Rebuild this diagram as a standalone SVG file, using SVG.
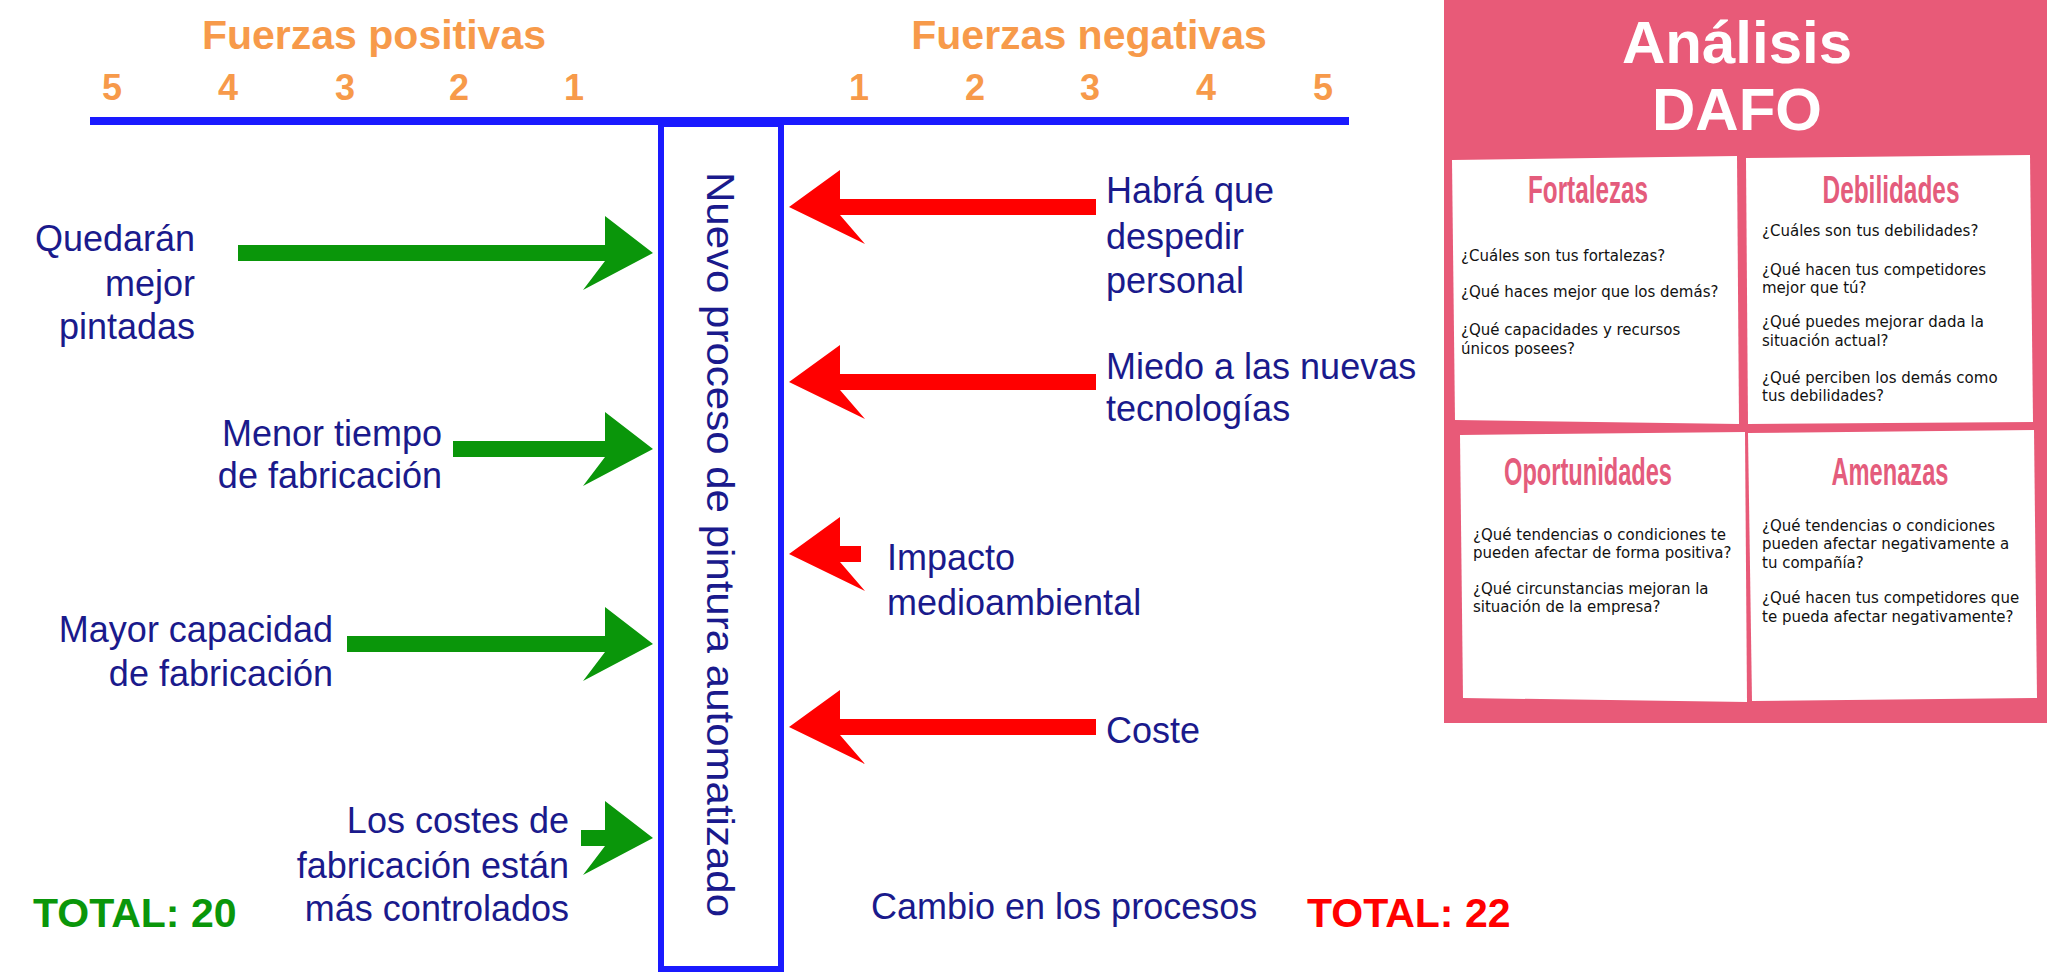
<svg xmlns="http://www.w3.org/2000/svg" width="2059" height="979" viewBox="0 0 2059 979">
<style>
.lbl{font-family:"Liberation Sans",Arial,sans-serif;font-size:36px;fill:#1a1a8c}
.num{font-family:"Liberation Sans",Arial,sans-serif;font-size:36px;font-weight:bold;fill:#f79a4a;text-anchor:middle}
.hd{font-family:"Liberation Sans",Arial,sans-serif;font-size:41px;font-weight:bold;fill:#f79a4a;text-anchor:middle}
.g{fill:#0a960a}.r{fill:#ff0000}
.card{fill:#fff}
.ch{font-family:"Liberation Sans",Arial,sans-serif;font-size:38px;font-weight:bold;fill:#e45c7c;text-anchor:middle}
.q{font-family:"DejaVu Sans",sans-serif;font-size:15px;fill:#111}
</style>
<rect width="2059" height="979" fill="#fff"/>
<g id="axis">
<text class="hd" x="374" y="49">Fuerzas positivas</text>
<text class="hd" x="1089" y="49">Fuerzas negativas</text>
<text class="num" x="112" y="100">5</text><text class="num" x="228" y="100">4</text><text class="num" x="345" y="100">3</text><text class="num" x="459" y="100">2</text><text class="num" x="574" y="100">1</text>
<text class="num" x="859" y="100">1</text><text class="num" x="975" y="100">2</text><text class="num" x="1090" y="100">3</text><text class="num" x="1206" y="100">4</text><text class="num" x="1323" y="100">5</text>
<line x1="90" y1="121" x2="1349" y2="121" stroke="#1a1aff" stroke-width="8"/>
</g>
<g id="center">
<rect x="661" y="124" width="120" height="845" fill="none" stroke="#1a1aff" stroke-width="6"/>
<text class="lbl" transform="translate(707,172) rotate(90)" style="font-size:38px" textLength="745" lengthAdjust="spacingAndGlyphs">Nuevo proceso de pintura automatizado</text>
</g>
<g id="connectors">
<path class="g" d="M238 245H605V216L653 253L583 290L605 261H238Z"/>
<path class="g" d="M453 441H605V412L653 449L583 486L605 457H453Z"/>
<path class="g" d="M347 636H605V607L653 644L583 681L605 652H347Z"/>
<path class="g" d="M581 830H605V801L653 838L583 875L605 846H581Z"/>
<path class="r" d="M1096 199H840V170L789 207L865 244L840 215H1096Z"/>
<path class="r" d="M1096 374H840V345L789 382L865 419L840 390H1096Z"/>
<path class="r" d="M861 546H840V517L789 554L865 591L840 562H861Z"/>
<path class="r" d="M1096 719H840V690L789 727L865 764L840 735H1096Z"/>
</g>
<g id="pos-labels" text-anchor="end">
<text class="lbl" x="195" y="251">Quedarán</text><text class="lbl" x="195" y="296">mejor</text><text class="lbl" x="195" y="339">pintadas</text>
<text class="lbl" x="442" y="446">Menor tiempo</text><text class="lbl" x="442" y="488">de fabricación</text>
<text class="lbl" x="333" y="642">Mayor capacidad</text><text class="lbl" x="333" y="686">de fabricación</text>
<text class="lbl" x="569" y="833">Los costes de</text><text class="lbl" x="569" y="878">fabricación están</text><text class="lbl" x="569" y="921">más controlados</text>
</g>
<g id="neg-labels">
<text class="lbl" x="1106" y="203">Habrá que</text><text class="lbl" x="1106" y="249">despedir</text><text class="lbl" x="1106" y="293">personal</text>
<text class="lbl" x="1106" y="379">Miedo a las nuevas</text><text class="lbl" x="1106" y="421">tecnologías</text>
<text class="lbl" x="887" y="570">Impacto</text><text class="lbl" x="887" y="615">medioambiental</text>
<text class="lbl" x="1106" y="743">Coste</text>
<text class="lbl" x="871" y="919">Cambio en los procesos</text>
</g>
<g id="totals" font-family="Liberation Sans, Arial, sans-serif" font-size="41" font-weight="bold">
<text x="33" y="927" fill="#0a960a">TOTAL: 20</text>
<text x="1307" y="927" fill="#ff0000">TOTAL: 22</text>
</g>
<g id="dafo" transform="translate(-7,0)">
<rect x="1451" y="0" width="603" height="723" fill="#e85a78"/>
<g font-family="Liberation Sans, Arial, sans-serif" font-weight="bold" fill="#fff" text-anchor="middle" font-size="60">
<text x="1744" y="63">Análisis</text><text x="1744" y="130">DAFO</text>
</g>
<polygon class="card" points="1459,160 1744,156 1746,424 1462,420"/>
<polygon class="card" points="1753,158 2037,155 2040,422 1755,424"/>
<polygon class="card" points="1467,435 1752,432 1754,702 1470,698"/>
<polygon class="card" points="1755,433 2041,430 2044,698 1759,701"/>
<text class="ch" x="1595" y="203" textLength="120" lengthAdjust="spacingAndGlyphs">Fortalezas</text>
<text class="ch" x="1898" y="203" textLength="137" lengthAdjust="spacingAndGlyphs">Debilidades</text>
<text class="ch" x="1595" y="485" textLength="168" lengthAdjust="spacingAndGlyphs">Oportunidades</text>
<text class="ch" x="1897" y="485" textLength="117" lengthAdjust="spacingAndGlyphs">Amenazas</text>
<g class="q">
<text x="1468" y="261">¿Cuáles son tus fortalezas?</text>
<text x="1468" y="297">¿Qué haces mejor que los demás?</text>
<text x="1468" y="335">¿Qué capacidades y recursos</text>
<text x="1468" y="354">únicos posees?</text>
<text x="1769" y="236">¿Cuáles son tus debilidades?</text>
<text x="1769" y="275">¿Qué hacen tus competidores</text>
<text x="1769" y="293">mejor que tú?</text>
<text x="1769" y="327">¿Qué puedes mejorar dada la</text>
<text x="1769" y="346">situación actual?</text>
<text x="1769" y="383">¿Qué perciben los demás como</text>
<text x="1769" y="401">tus debilidades?</text>
<text x="1480" y="540">¿Qué tendencias o condiciones te</text>
<text x="1480" y="558">pueden afectar de forma positiva?</text>
<text x="1480" y="594">¿Qué circunstancias mejoran la</text>
<text x="1480" y="612">situación de la empresa?</text>
<text x="1769" y="531">¿Qué tendencias o condiciones</text>
<text x="1769" y="549">pueden afectar negativamente a</text>
<text x="1769" y="568">tu compañía?</text>
<text x="1769" y="603">¿Qué hacen tus competidores que</text>
<text x="1769" y="622">te pueda afectar negativamente?</text>
</g>
</g>
</svg>
